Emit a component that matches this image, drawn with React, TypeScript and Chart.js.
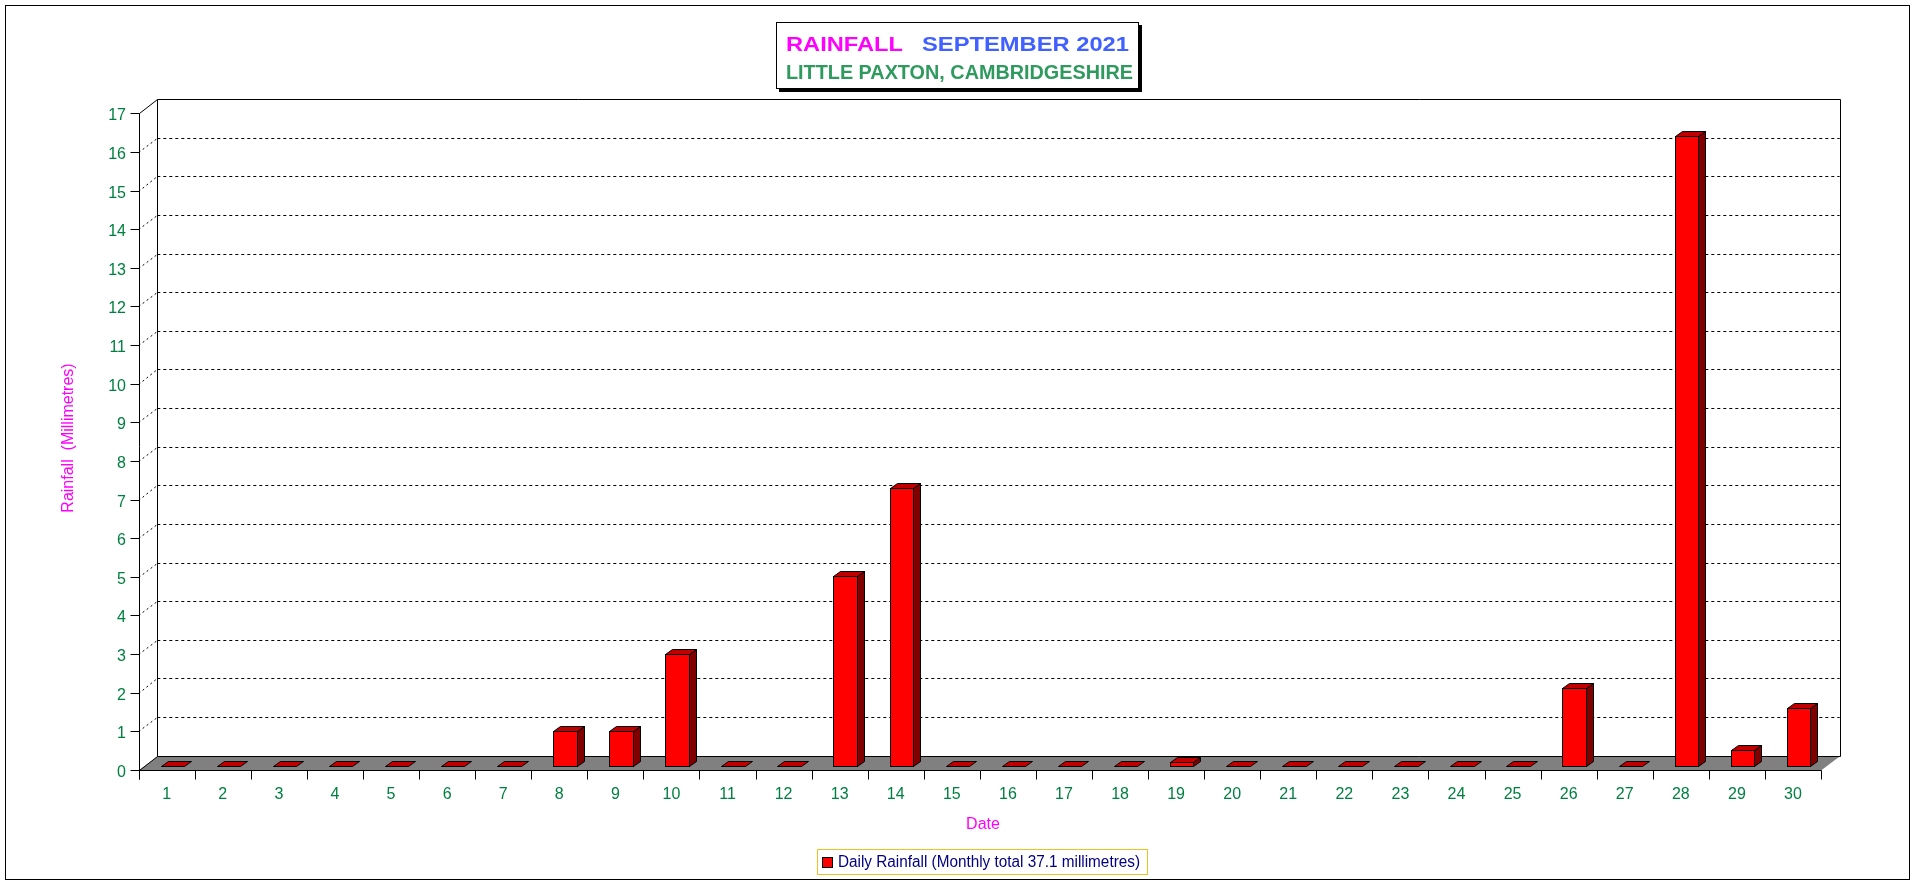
import { useEffect, useRef } from "react";
import { Chart, registerables } from "chart.js";

Chart.register(...registerables);

const days = ["1","2","3","4","5","6","7","8","9","10","11","12","13","14","15","16","17","18","19","20","21","22","23","24","25","26","27","28","29","30"];
const rainfall = [0,0,0,0,0,0,0,0.9,0.9,2.9,0,0,4.9,7.2,0,0,0,0,0.1,0,0,0,0,0,0,2.0,0,16.3,0.4,1.5];
const yTicks = [0,1,2,3,4,5,6,7,8,9,10,11,12,13,14,15,16,17];
const titleLine1a = "RAINFALL";
const titleLine1b = "SEPTEMBER 2021";
const titleLine2 = "LITTLE PAXTON, CAMBRIDGESHIRE";
const xTitle = "Date";
const yTitle = "Rainfall  (Millimetres)";
const legendLabel = "Daily Rainfall (Monthly total 37.1 millimetres)";

const W = 1916;
const H = 884;
const DX = 18.6;
const DY = -14.3;
const F1 = 0.3;
const F2 = 0.66;
const FONT = "'Liberation Sans', Arial, sans-serif";
const LABEL_COLOR = "#008040";

function fitText(ctx: CanvasRenderingContext2D, text: string, x: number, y: number, width: number) {
  const m = ctx.measureText(text).width;
  ctx.save();
  ctx.translate(x, y);
  ctx.scale(width / m, 1);
  ctx.textAlign = "left";
  ctx.fillText(text, 0, 0);
  ctx.restore();
}

const threeD = {
  id: "threeD",
  beforeDraw(chart: any) {
    const ctx: CanvasRenderingContext2D = chart.ctx;
    const area = chart.chartArea;
    const ys = chart.scales.y;
    ctx.save();
    ctx.fillStyle = "#ffffff";
    ctx.fillRect(0, 0, W, H);
    ctx.strokeStyle = "#000";
    ctx.lineWidth = 1;
    ctx.strokeRect(5.5, 5.5, 1904, 874);

    const fl = area.left;
    const fr = area.right;
    const bl = fl + DX;
    const br = fr + DX;
    const y0 = ys.getPixelForValue(0);
    const yTop = ys.getPixelForValue(17);

    // back gridlines
    for (const v of yTicks) {
      if (v === 0 || v === 17) continue;
      const yf = Math.round(ys.getPixelForValue(v)) + 0.5;
      const yb = Math.round(ys.getPixelForValue(v) + DY) + 0.5;
      ctx.setLineDash([3, 3]);
      ctx.beginPath();
      ctx.moveTo(bl, yb);
      ctx.lineTo(br, yb);
      ctx.stroke();
      ctx.setLineDash([2, 3]);
      ctx.beginPath();
      ctx.moveTo(fl, yf);
      ctx.lineTo(bl, yb);
      ctx.stroke();
    }
    ctx.setLineDash([]);

    // back wall edges
    const ybTop = Math.round(yTop + DY) + 0.5;
    const ybBot = Math.round(y0 + DY) + 0.5;
    const xbl = Math.round(bl) + 0.5;
    const xbr = Math.round(br) + 0.5;
    ctx.beginPath();
    ctx.moveTo(xbl, ybBot);
    ctx.lineTo(xbl, ybTop);
    ctx.lineTo(xbr, ybTop);
    ctx.lineTo(xbr, ybBot);
    ctx.stroke();
    ctx.beginPath();
    ctx.moveTo(Math.round(fl) + 0.5, Math.round(yTop) + 0.5);
    ctx.lineTo(xbl, ybTop);
    ctx.stroke();

    // floor
    const yf0 = Math.round(y0) + 0.5;
    ctx.fillStyle = "#808080";
    ctx.beginPath();
    ctx.moveTo(fl, yf0);
    ctx.lineTo(fr, yf0);
    ctx.lineTo(fr + DX, ybBot);
    ctx.lineTo(xbl, ybBot);
    ctx.closePath();
    ctx.fill();
    ctx.beginPath();
    ctx.moveTo(Math.round(fl) + 0.5, yf0);
    ctx.lineTo(xbl, ybBot);
    ctx.lineTo(xbr, ybBot);
    ctx.stroke();
    ctx.restore();
  },
  beforeDatasetDraw() {
    return false;
  },
  afterDatasetsDraw(chart: any) {
    const ctx: CanvasRenderingContext2D = chart.ctx;
    const area = chart.chartArea;
    const ys = chart.scales.y;
    const xs = chart.scales.x;
    const meta = chart.getDatasetMeta(0);
    ctx.save();
    ctx.strokeStyle = "#000";
    ctx.lineWidth = 1;
    const sdx = (F2 - F1) * DX;
    const sdy = (F2 - F1) * DY;
    meta.data.forEach((el: any) => {
      const p = el.getProps(["x", "y", "base", "width"], true);
      const left = Math.round(p.x - p.width / 2 + F1 * DX) + 0.5;
      const right = Math.round(p.x + p.width / 2 + F1 * DX) + 0.5;
      const top = Math.round(p.y + F1 * DY) + 0.5;
      const bottom = Math.round(p.base + F1 * DY) + 0.5;
      const ox = Math.round(sdx);
      const oy = Math.round(sdy);
      if (bottom - top >= 1) {
        ctx.fillStyle = "#ff0000";
        ctx.fillRect(left, top, right - left, bottom - top);
        ctx.strokeRect(left, top, right - left, bottom - top);
        ctx.fillStyle = "#800000";
        ctx.beginPath();
        ctx.moveTo(right, top);
        ctx.lineTo(right + ox, top + oy);
        ctx.lineTo(right + ox, bottom + oy);
        ctx.lineTo(right, bottom);
        ctx.closePath();
        ctx.fill();
        ctx.stroke();
      }
      ctx.fillStyle = "#c00000";
      ctx.beginPath();
      ctx.moveTo(left, top);
      ctx.lineTo(left + ox, top + oy);
      ctx.lineTo(right + ox, top + oy);
      ctx.lineTo(right, top);
      ctx.closePath();
      ctx.fill();
      ctx.stroke();
    });

    // front axes
    const fl = Math.round(area.left) + 0.5;
    const y0 = Math.round(ys.getPixelForValue(0)) + 0.5;
    const yTop = Math.round(ys.getPixelForValue(17)) + 0.5;
    ctx.beginPath();
    ctx.moveTo(fl, yTop);
    ctx.lineTo(fl, y0 + 9);
    ctx.moveTo(fl, y0);
    ctx.lineTo(Math.round(area.right) + 0.5, y0);
    ctx.stroke();

    ctx.font = `16px ${FONT}`;
    ctx.fillStyle = LABEL_COLOR;
    // y ticks and labels
    ctx.textAlign = "right";
    ctx.textBaseline = "alphabetic";
    for (const v of yTicks) {
      const y = Math.round(ys.getPixelForValue(v)) + 0.5;
      ctx.beginPath();
      ctx.moveTo(fl - 9, y);
      ctx.lineTo(fl, y);
      ctx.stroke();
      ctx.fillText(String(v), 126, y + 6);
    }
    // x ticks and labels
    const n = days.length;
    const catW = (area.right - area.left) / n;
    for (let i = 0; i <= n; i++) {
      const x = Math.round(area.left + i * catW) + 0.5;
      ctx.beginPath();
      ctx.moveTo(x, y0);
      ctx.lineTo(x, y0 + 9);
      ctx.stroke();
    }
    ctx.textAlign = "center";
    days.forEach((d, i) => {
      ctx.fillText(d, xs.getPixelForValue(i), 799);
    });

    // axis titles
    ctx.fillStyle = "#ff00ff";
    ctx.fillText(xTitle, 983, 829);
    ctx.save();
    ctx.translate(73, 438);
    ctx.rotate(-Math.PI / 2);
    ctx.textAlign = "center";
    ctx.fillText(yTitle, 0, 0);
    ctx.restore();

    // title box
    ctx.fillStyle = "#000";
    ctx.fillRect(779, 25, 363, 67);
    ctx.fillStyle = "#fff";
    ctx.fillRect(776, 22, 363, 67);
    ctx.strokeRect(776.5, 22.5, 362, 66);
    ctx.font = `bold 21px ${FONT}`;
    ctx.fillStyle = "#ff00ff";
    fitText(ctx, titleLine1a, 786, 51, 117);
    ctx.fillStyle = "#4060ff";
    fitText(ctx, titleLine1b, 922, 51, 207);
    ctx.font = `bold 20px ${FONT}`;
    ctx.fillStyle = "#2e9a5e";
    fitText(ctx, titleLine2, 786, 79, 347);

    // legend
    ctx.strokeStyle = "#f0c020";
    ctx.strokeRect(817.5, 849.5, 330, 25);
    ctx.fillStyle = "#ff0000";
    ctx.fillRect(823, 858, 9, 9);
    ctx.strokeStyle = "#000";
    ctx.strokeRect(822.5, 857.5, 10, 10);
    ctx.font = `16px ${FONT}`;
    ctx.fillStyle = "#000080";
    fitText(ctx, legendLabel, 838, 867, 302);
    ctx.restore();
  },
};

export default function App() {
  const ref = useRef<HTMLCanvasElement | null>(null);
  useEffect(() => {
    document.body.style.margin = "0";
    const canvas = ref.current!;
    const chart = new Chart(canvas, {
      type: "bar",
      data: {
        labels: days,
        datasets: [
          {
            label: legendLabel,
            data: rainfall,
            backgroundColor: "#ff0000",
            borderColor: "#000000",
            borderWidth: 1,
            barPercentage: 0.42,
            categoryPercentage: 1,
          },
        ],
      },
      options: {
        responsive: false,
        animation: false,
        devicePixelRatio: 1,
        layout: { padding: { left: 138.7, right: W - 1821, top: 113.3, bottom: H - 770 } },
        scales: {
          x: { display: false, offset: true },
          y: { display: false, min: 0, max: 17 },
        },
        plugins: {
          legend: { display: false },
          title: { display: false },
          tooltip: { enabled: false },
        },
      },
      plugins: [threeD],
    } as any);
    return () => chart.destroy();
  }, []);
  return <canvas ref={ref} width={W} height={H} style={{ display: "block" }} />;
}
